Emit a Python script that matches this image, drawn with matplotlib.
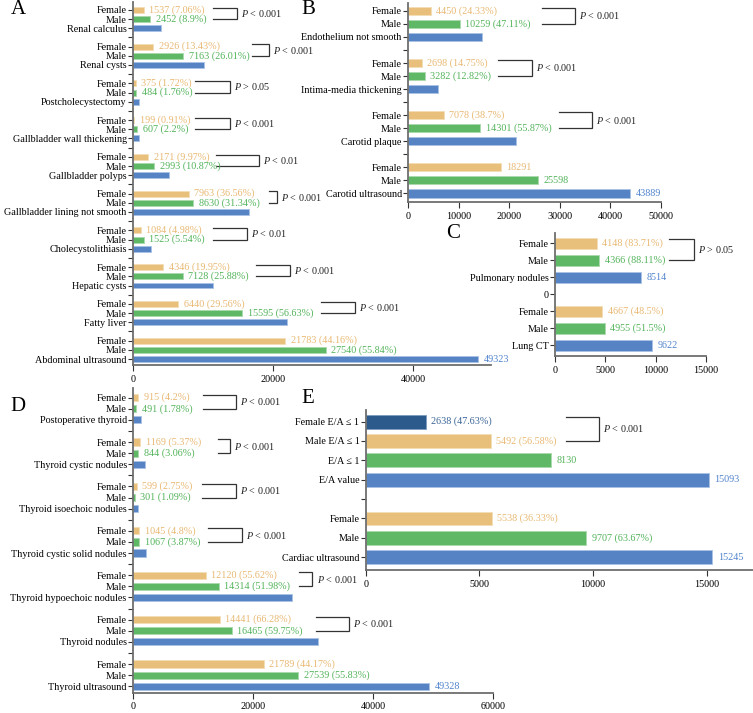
import matplotlib
matplotlib.use('Agg')
import matplotlib.pyplot as plt

plt.rcParams['font.family'] = ['Liberation Serif', 'DejaVu Serif']
plt.rcParams['mathtext.fontset'] = 'custom'
plt.rcParams['mathtext.rm'] = 'Liberation Serif'
plt.rcParams['mathtext.it'] = 'Liberation Serif:italic'

# ---- 数据 ----
# A 腹部超声
A_cats = ['Renal calculus', 'Renal cysts', 'Postcholecystectomy', 'Gallbladder wall thickening',
          'Gallbladder polyps', 'Gallbladder lining not smooth', 'Cholecystolithiasis',
          'Hepatic cysts', 'Fatty liver', 'Abdominal ultrasound']
A_female = [1537, 2926, 375, 199, 2171, 7963, 1084, 4346, 6440, 21783]
A_female_pct = ['7.06%', '13.43%', '1.72%', '0.91%', '9.97%', '36.56%', '4.98%', '19.95%', '29.56%', '44.16%']
A_male = [2452, 7163, 484, 607, 2993, 8630, 1525, 7128, 15595, 27540]
A_male_pct = ['8.9%', '26.01%', '1.76%', '2.2%', '10.87%', '31.34%', '5.54%', '25.88%', '56.63%', '55.84%']
A_total = [3989, 10089, 859, 806, 5164, 16593, 2609, 11474, 22035, 49323]
A_total_shown = [False] * 9 + [True]
A_p = ['< 0.001', '< 0.001', '> 0.05', '< 0.001', '< 0.01', '< 0.001', '< 0.01', '< 0.001', '< 0.001', None]

# B 颈动脉超声
B_cats = ['Endothelium not smooth', 'Intima-media thickening', 'Carotid plaque', 'Carotid ultrasound']
B_female = [4450, 2698, 7078, 18291]
B_female_pct = ['24.33%', '14.75%', '38.7%', None]
B_male = [10259, 3282, 14301, 25598]
B_male_pct = ['47.11%', '12.82%', '55.87%', None]
B_total = [14709, 5980, 21379, 43889]
B_total_shown = [False, False, False, True]
B_p = ['< 0.001', '< 0.001', '< 0.001', None]

# C 肺部CT
C_cats = ['Pulmonary nodules', 'Lung CT']
C_female = [4148, 4667]
C_female_pct = ['83.71%', '48.5%']
C_male = [4366, 4955]
C_male_pct = ['88.11%', '51.5%']
C_total = [8514, 9622]
C_total_shown = [True, True]
C_p = ['> 0.05', None]

# D 甲状腺超声
D_cats = ['Postoperative thyroid', 'Thyroid cystic nodules', 'Thyroid isoechoic nodules',
          'Thyroid cystic solid nodules', 'Thyroid hypoechoic nodules', 'Thyroid nodules',
          'Thyroid ultrasound']
D_female = [915, 1169, 599, 1045, 12120, 14441, 21789]
D_female_pct = ['4.2%', '5.37%', '2.75%', '4.8%', '55.62%', '66.28%', '44.17%']
D_male = [491, 844, 301, 1067, 14314, 16465, 27539]
D_male_pct = ['1.78%', '3.06%', '1.09%', '3.87%', '51.98%', '59.75%', '55.83%']
D_total = [1406, 2013, 900, 2112, 26434, 30906, 49328]
D_total_shown = [False] * 6 + [True]
D_p = ['< 0.001'] * 6 + [None]

# E 心脏超声 (从下到上)
E_cats = ['Cardiac ultrasound', 'Male', 'Female', '', 'E/A value', 'E/A ≤ 1', 'Male E/A ≤ 1', 'Female E/A ≤ 1']
E_values = [15245, 9707, 5538, None, 15093, 8130, 5492, 2638]
E_pct = [None, '63.67%', '36.33%', None, None, None, '56.58%', '47.63%']
E_p = '< 0.001'

# ---- 样式 ----
C_F, C_M, C_T, C_D = '#E9BF7C', '#5FB866', '#5683C4', '#2C5A8C'
E_F, E_M, E_T, E_D = '#F3DDB6', '#A9D9AC', '#A9C2E6', '#7D9CC0'
T_F, T_M, T_T, T_D = '#E8B872', '#52B35A', '#4F83CC', '#3A6496'
FS = 7.3
W, H = 753, 713

fig = plt.figure(figsize=(W / 100, H / 100), dpi=100)


def make_ax(left, right, top, bottom):
    ax = fig.add_axes([left / W, (H - bottom) / H, (right - left) / W, (bottom - top) / H])
    for s in ['top', 'right']:
        ax.spines[s].set_visible(False)
    for s in ['left', 'bottom']:
        ax.spines[s].set_color('#6e6e6e')
        ax.spines[s].set_linewidth(1.3)
    ax.tick_params(axis='y', length=3.5, width=0.8, color='#333333', labelsize=FS, pad=1)
    ax.tick_params(axis='x', length=4, width=0.8, color='#333333', labelsize=FS, pad=3)
    return ax


def bar(ax, y, v, c, ec, h, txt=None, tc=None):
    ax.barh(y, v, height=h, color=c, edgecolor=ec, linewidth=0.6)
    if txt is not None:
        ax.annotate(txt, (v, y), xytext=(4, 0), textcoords='offset points',
                    ha='left', va='center', fontsize=FS, color=tc)


def bracket(ax, y_top, y_bot, x0, x1, p):
    ax.plot([x0, x1, x1, x0], [y_top, y_top, y_bot, y_bot], color='#333333', lw=0.9,
            solid_joinstyle='miter', clip_on=False)
    ax.annotate('$P$ ' + p, (x1, (y_top + y_bot) / 2), xytext=(3, 0), textcoords='offset points',
                ha='left', va='center', fontsize=FS, color='#222222')


def panel(ax, cats, female, fpct, male, mpct, total, tshown, pvals, br, gap_label=''):
    n = len(cats)
    labels = {}
    for g in range(n):
        base = (n - 1 - g) * 4
        ft = f'{female[g]} ({fpct[g]})' if fpct[g] else str(female[g])
        mt = f'{male[g]} ({mpct[g]})' if mpct[g] else str(male[g])
        bar(ax, base + 2, female[g], C_F, E_F, 0.65, ft, T_F)
        bar(ax, base + 1, male[g], C_M, E_M, 0.65, mt, T_M)
        bar(ax, base, total[g], C_T, E_T, 0.65, str(total[g]) if tshown[g] else None, T_T)
        labels[base + 2] = 'Female'
        labels[base + 1] = 'Male'
        labels[base] = cats[g]
        if g > 0:
            labels[base + 3] = gap_label
        if pvals[g]:
            bracket(ax, base + 2.25, base + 1, br[g][0], br[g][1], pvals[g])
    ys = sorted(labels)
    ax.set_yticks(ys)
    ax.set_yticklabels([labels[y] for y in ys])


# A
axA = make_ax(133, 491, 2, 365)
A_br = [(11400, 14900), (17000, 19400), (8850, 13850), (8850, 13850), (11850, 17950),
        (19400, 20600), (11400, 16300), (17550, 22400), (26850, 31750)]
panel(axA, A_cats, A_female, A_female_pct, A_male, A_male_pct, A_total, A_total_shown, A_p, A_br)
axA.set_xlim(0, 51140)
axA.set_ylim(-0.65, 38.85)
axA.set_xticks([0, 20000, 40000])

# B
axB = make_ax(408, 661, 3, 202)
B_br = [(26400, 33000), (17850, 24450), (29850, 36400)]
panel(axB, B_cats, B_female, B_female_pct, B_male, B_male_pct, B_total, B_total_shown, B_p, B_br)
axB.set_xlim(0, 50000)
axB.set_ylim(-0.67, 14.61)
axB.set_xticks([0, 10000, 20000, 30000, 40000, 50000])

# C
axC = make_ax(555, 706, 232.7, 356)
C_br = [(11350, 13800)]
panel(axC, C_cats, C_female, C_female_pct, C_male, C_male_pct, C_total, C_total_shown, C_p, C_br,
      gap_label='0')
axC.set_xlim(0, 15000)
axC.set_ylim(-0.63, 6.62)
axC.set_xticks([0, 5000, 10000, 15000])

# D
axD = make_ax(133, 493, 387.7, 692.7)
D_br = [(11600, 17150), (14200, 16150), (11550, 17150), (12550, 18200), (27650, 29900), (30500, 36050)]
panel(axD, D_cats, D_female, D_female_pct, D_male, D_male_pct, D_total, D_total_shown, D_p, D_br)
axD.set_xlim(0, 60000)
axD.set_ylim(-0.58, 26.9)
axD.set_xticks([0, 20000, 40000, 60000])

# E
axE = make_ax(365.7, 753, 410, 570)
E_colors = [(C_T, E_T, T_T), (C_M, E_M, T_M), (C_F, E_F, T_F), None,
            (C_T, E_T, T_T), (C_M, E_M, T_M), (C_F, E_F, T_F), (C_D, E_D, T_D)]
for y, v in enumerate(E_values):
    if v is None:
        continue
    c, ec, tc = E_colors[y]
    txt = f'{v} ({E_pct[y]})' if E_pct[y] else str(v)
    bar(axE, y, v, c, ec, 0.72, txt, tc)
bracket(axE, 7.25, 6, 8800, 10250, E_p)
axE.set_yticks(range(len(E_cats)))
axE.set_yticklabels(E_cats)
axE.set_xlim(0, 17030)
axE.set_ylim(-0.66, 7.6)
axE.set_xticks([0, 5000, 10000, 15000])

# 面板字母
for letter, x, y in [('A', 18, 10), ('B', 308, 10), ('C', 453, 233), ('D', 18, 407), ('E', 308, 399)]:
    fig.text(x / W, 1 - y / H, letter, fontsize=15, ha='center', va='center')

fig.savefig('out.png', dpi=100)
